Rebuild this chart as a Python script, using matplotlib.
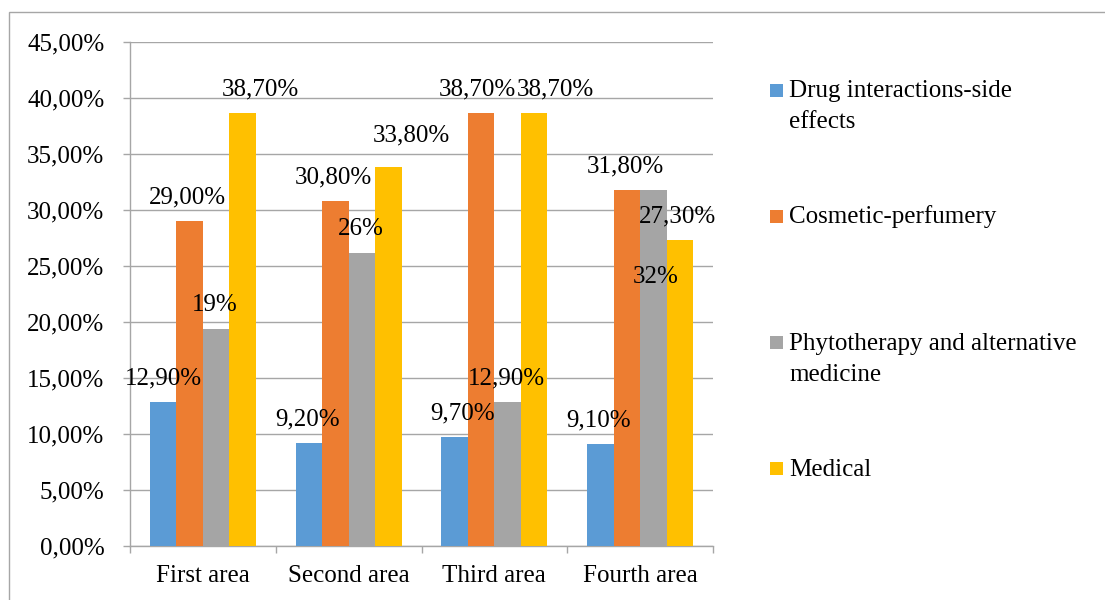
import numpy as np
import matplotlib
matplotlib.use("Agg")
from matplotlib import pyplot as plt
from matplotlib.patches import Rectangle
from matplotlib.ticker import FuncFormatter, FixedLocator

# dati
aree = ["First area", "Second area", "Third area", "Fourth area"]
serie = ["Drug interactions-side\neffects", "Cosmetic-perfumery",
         "Phytotherapy and alternative\nmedicine", "Medical"]
drug = [12.9, 9.2, 9.7, 9.1]
cosmetic = [29.0, 30.8, 38.7, 31.8]
phyto = [19.4, 26.2, 12.9, 31.8]
medical = [38.7, 33.8, 38.7, 27.3]
etichette = [
	["12,90%", "9,20%", "9,70%", "9,10%"],
	["29,00%", "30,80%", "38,70%", "31,80%"],
	["19%", "26%", "12,90%", "32%"],
	["38,70%", "33,80%", "38,70%", "27,30%"],
]

# spostamenti manuali delle etichette (pixel), come nel grafico originale
sposta_x = [
	[0, -1, 8, -2],
	[-2, -2, -4, -2],
	[-1, -1, -1, 2],
	[18, 23, 21, -2],
]
sposta_y = [
	[0, 0, 0, 0],
	[0, 0, 0, 0],
	[0, 0, 0, -111],
	[0, 8, 0, 0],
]

colori = ["#5B9BD5", "#ED7D31", "#A5A5A5", "#FFC000"]
grigio = "#A6A6A6"

plt.rcParams["font.family"] = ["Liberation Serif", "DejaVu Serif"]
fs = 18

fig = plt.figure(figsize=(11.05, 6.0), dpi=100)
W, H = 1105.0, 600.0
ax = fig.add_axes([130/W, 54/H, 583/W, 504/H])

valori = [drug, cosmetic, phyto, medical]
x = np.arange(len(aree))
w = 1.0/5.5
for i, (v, c) in enumerate(zip(valori, colori)):
	pos = x + (i-1.5)*w
	ax.bar(pos, v, w, color=c, linewidth=0, zorder=3)
	for j in range(len(aree)):
		ax.annotate(etichette[i][j], xy=(pos[j], v[j]),
		            xytext=(sposta_x[i][j], 17.5+sposta_y[i][j]),
		            textcoords="offset pixels", ha="center", va="baseline",
		            fontsize=fs, color="black", zorder=5)

ax.set_xlim(-0.5, len(aree)-0.5)
ax.set_ylim(0, 45)
ax.set_yticks(np.arange(0, 46, 5))
ax.yaxis.set_major_formatter(FuncFormatter(lambda v, p: ("%.2f%%" % v).replace(".", ",")))
ax.set_xticks(x)
ax.set_xticklabels(aree)
ax.xaxis.set_minor_locator(FixedLocator(np.arange(-0.5, len(aree), 1.0)))

ax.grid(axis="y", color=grigio, linewidth=1.0, zorder=0)
ax.tick_params(axis="y", length=5, width=1.0, color=grigio, pad=13.5, labelsize=fs)
ax.tick_params(axis="x", which="major", length=0, pad=14, labelsize=fs)
ax.tick_params(axis="x", which="minor", length=5, width=1.0, color=grigio)
for s in ["top", "right"]:
	ax.spines[s].set_visible(False)
for s in ["left", "bottom"]:
	ax.spines[s].set_color(grigio)
	ax.spines[s].set_linewidth(1.0)

# legenda disegnata a mano (quadratino allineato alla prima riga)
y0 = 97
passo = 126.3
riga = 31
for k, (nome, c) in enumerate(zip(serie, colori)):
	yb = y0 + k*passo
	fig.patches.append(Rectangle((770/W, 1-(yb-0.5)/H), 13/W, 13/H,
	                             transform=fig.transFigure, color=c, linewidth=0))
	for l, testo in enumerate(nome.split("\n")):
		fig.text(789/W, 1-(yb+l*riga)/H, testo, ha="left", va="baseline", fontsize=fs)

# bordo esterno del grafico
fig.patches.append(Rectangle((9/W, -0.05), 1.2, (H-12)/H+0.05, transform=fig.transFigure,
                             fill=False, edgecolor=grigio, linewidth=1.0))

fig.savefig("out.png", dpi=100)
